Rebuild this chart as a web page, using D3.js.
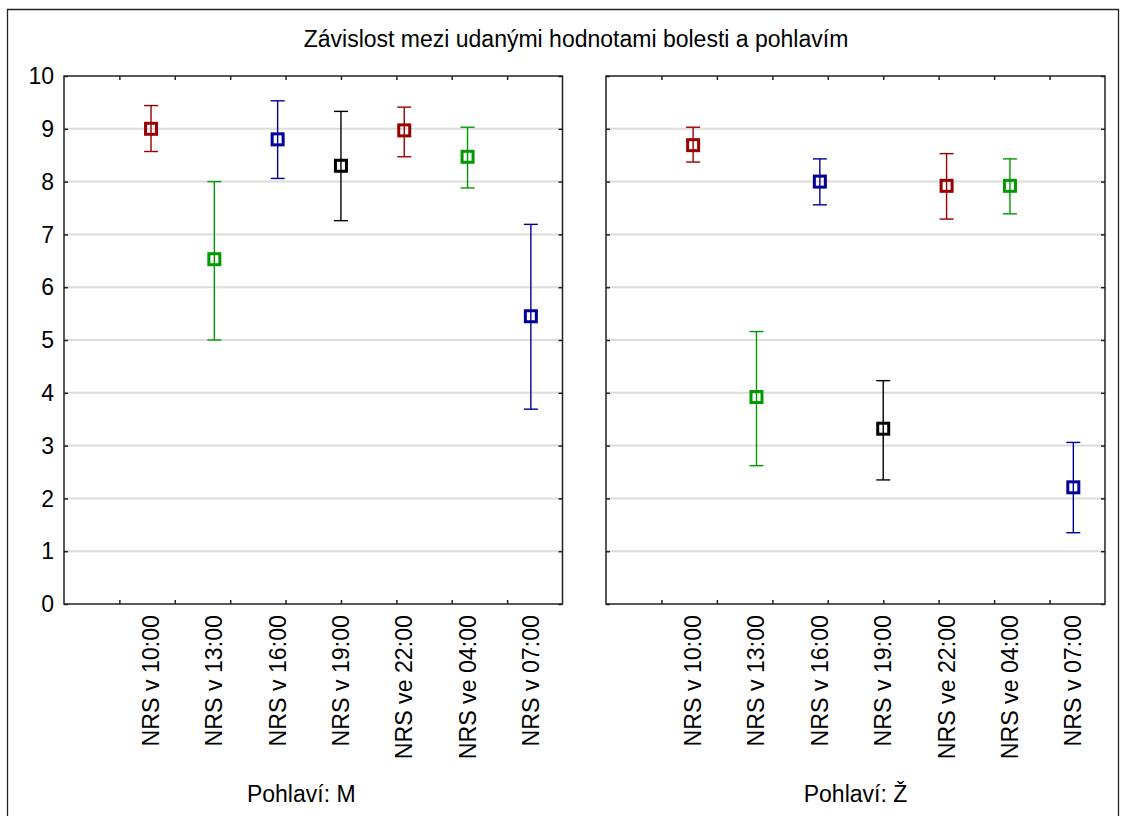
<!DOCTYPE html>
<html><head><meta charset="utf-8">
<script src="https://cdn.jsdelivr.net/npm/d3@7"></script>
<style>
html,body{margin:0;padding:0;background:#fff;}
svg{display:block;font-family:"Liberation Sans",Arial,sans-serif;}
</style></head>
<body>
<svg id="chart" width="1126" height="816"></svg>
<script>
// ---- data ----
const title = "Závislost mezi udanými hodnotami bolesti a pohlavím";
const categories = ["NRS v 10:00","NRS v 13:00","NRS v 16:00","NRS v 19:00","NRS ve 22:00","NRS ve 04:00","NRS v 07:00"];
const panelLabels = ["Pohlaví: M","Pohlaví: Ž"];
const meanM  = [9.00, 6.53, 8.80, 8.30, 8.97, 8.47, 5.45];
const upperM = [9.44, 8.00, 9.53, 9.33, 9.41, 9.03, 7.19];
const lowerM = [8.57, 5.00, 8.06, 7.26, 8.47, 7.88, 3.69];
const meanZ  = [8.69, 3.92, 8.00, 3.32, 7.92, 7.92, 2.21];
const upperZ = [9.03, 5.16, 8.43, 4.23, 8.53, 8.43, 3.06];
const lowerZ = [8.37, 2.62, 7.56, 2.35, 7.29, 7.39, 1.35];
const yTicks = [0,1,2,3,4,5,6,7,8,9,10];

// ---- styles ----
const catColors = ["#990000","#009900","#000099","#000000","#990000","#009900","#000099"];
const axisColor = "#222";

(function(){
const svg = d3.select("#chart");
// outer frame
svg.append("path").attr("d","M7.5,816 V9.5 H1118.5 V816")
  .attr("fill","none").attr("stroke","#222").attr("stroke-width",1.3);

svg.append("text").attr("x",576).attr("y",47).attr("text-anchor","middle")
  .attr("font-size",23).attr("fill","#000").text(title);

const plotTop = 76, plotBottom = 604;
const y = d3.scaleLinear().domain([0,10]).range([plotBottom, plotTop]);

const panels = [
  {x0:64, x1:562.5, mean:meanM, up:upperM, lo:lowerM, label:panelLabels[0], labelShift:-12, yLabels:true},
  {x0:606, x1:1105, mean:meanZ, up:upperZ, lo:lowerZ, label:panelLabels[1], labelShift:0, yLabels:false}
];

panels.forEach(p => {
  const g = svg.append("g");
  const x = d3.scaleLinear().domain([-1.375, 6.5]).range([p.x0, p.x1]);
  const xt = d3.scaleLinear().domain([0, 9]).range([p.x0, p.x1]);

  // grid
  g.append("g").selectAll("line").data(yTicks.filter(t => t>0 && t<10)).join("line")
    .attr("x1",p.x0).attr("x2",p.x1).attr("y1",d=>y(d)).attr("y2",d=>y(d))
    .attr("stroke","#dcdcdc").attr("stroke-width",2);

  // axes with inward ticks
  const axL = d3.axisRight(y).tickValues(yTicks).tickSize(4).tickFormat("");
  const axR = d3.axisLeft(y).tickValues(yTicks).tickSize(4).tickFormat("");
  const axB = d3.axisTop(xt).tickValues([1,2,3,4,5,6,7,8]).tickSize(4).tickFormat("");
  const axT = d3.axisBottom(xt).tickValues([1,2,3,4,5,6,7,8]).tickSize(4).tickFormat("");
  const styleAx = sel => { sel.selectAll("path,line").attr("stroke",axisColor).attr("stroke-width",1.5); sel.select(".domain").remove(); };
  g.append("g").attr("transform",`translate(${p.x0},0)`).call(axL).call(styleAx);
  g.append("g").attr("transform",`translate(${p.x1},0)`).call(axR).call(styleAx);
  g.append("g").attr("transform",`translate(0,${plotBottom})`).call(axB).call(styleAx);
  g.append("g").attr("transform",`translate(0,${plotTop})`).call(axT).call(styleAx);
  g.append("rect").attr("x",p.x0).attr("y",plotTop).attr("width",p.x1-p.x0).attr("height",plotBottom-plotTop)
    .attr("fill","none").attr("stroke",axisColor).attr("stroke-width",1.5);

  if (p.yLabels) {
    g.append("g").selectAll("text").data(yTicks).join("text")
      .attr("x",54).attr("y",d=>y(d)).attr("dy","0.36em").attr("text-anchor","end")
      .attr("font-size",23).attr("fill","#000").text(d=>d);
  }

  // category labels
  g.append("g").selectAll("text").data(categories).join("text")
    .attr("transform",(d,i)=>`translate(${x(i)+8},615) rotate(-90)`)
    .attr("text-anchor","end").attr("font-size",23.2).attr("fill","#000").text(d=>d);

  g.append("text").attr("x",(p.x0+p.x1)/2 + p.labelShift).attr("y",802)
    .attr("text-anchor","middle").attr("font-size",23).attr("fill","#000").text(p.label);

  // error bars
  const idx = d3.range(categories.length);
  const eb = g.append("g").selectAll("g").data(idx).join("g")
    .attr("stroke",i=>catColors[i]).attr("stroke-width",1.4).attr("fill","none");
  eb.append("line").attr("x1",i=>x(i)).attr("x2",i=>x(i)).attr("y1",i=>y(p.up[i])).attr("y2",i=>y(p.lo[i]));
  eb.append("line").attr("x1",i=>x(i)-7).attr("x2",i=>x(i)+7).attr("y1",i=>y(p.up[i])).attr("y2",i=>y(p.up[i]));
  eb.append("line").attr("x1",i=>x(i)-7).attr("x2",i=>x(i)+7).attr("y1",i=>y(p.lo[i])).attr("y2",i=>y(p.lo[i]));
  // markers
  g.append("g").selectAll("rect").data(idx).join("rect")
    .attr("x",i=>x(i)-5.5).attr("y",i=>y(p.mean[i])-5.5).attr("width",11).attr("height",11)
    .attr("fill","none").attr("stroke",i=>catColors[i]).attr("stroke-width",3);
});
})();
</script>
</body></html>
